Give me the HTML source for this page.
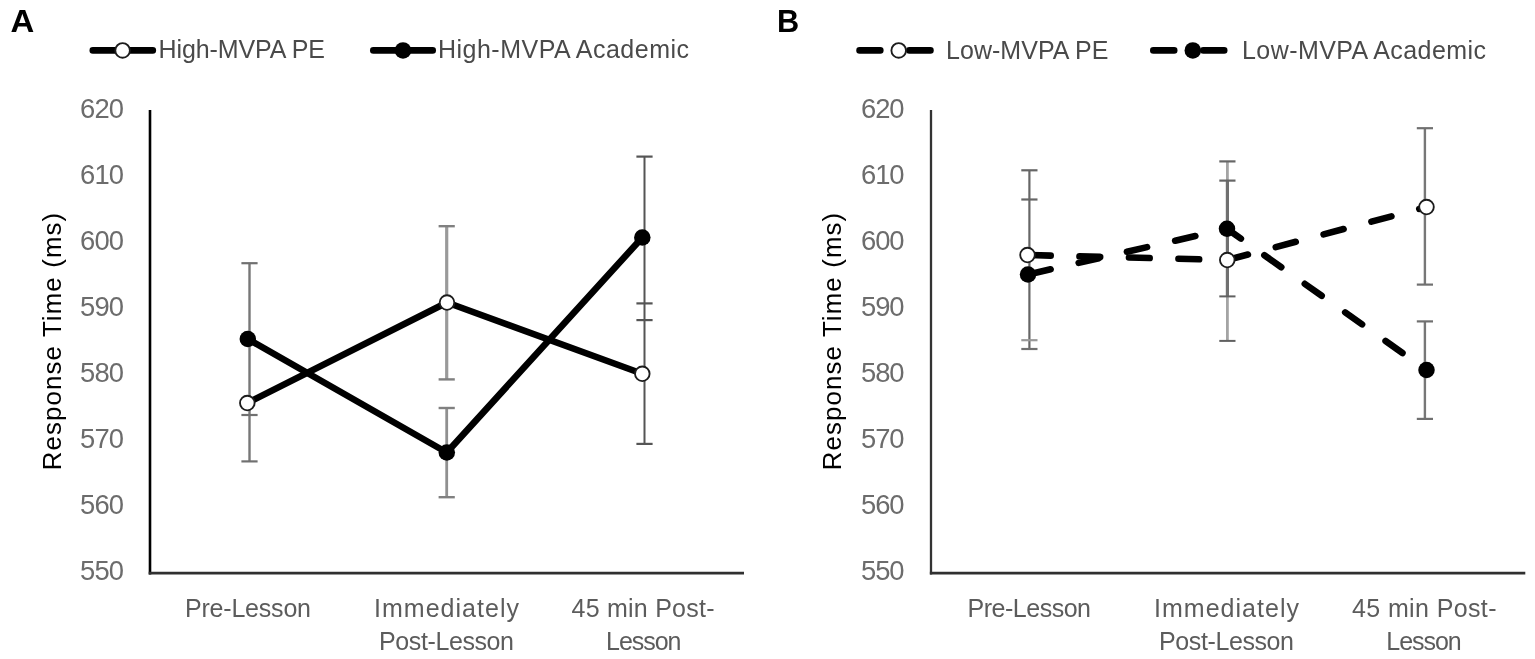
<!DOCTYPE html>
<html lang="en">
<head>
<meta charset="utf-8">
<title>Response Time by Lesson Type</title>
<style>
html,body{margin:0;padding:0;background:#fff;}
body{width:1535px;height:659px;overflow:hidden;}
svg{display:block;font-family:"Liberation Sans",Arial,Helvetica,sans-serif;}
</style>
</head>
<body>
<svg width="1535" height="659" viewBox="0 0 1535 659">
<rect x="0" y="0" width="1535" height="659" fill="#fff"/>
<g id="panel-A">
<text transform="translate(10.4,32.0) scale(1.045,1)" font-size="31.5" font-weight="bold" fill="#000">A</text>
<line x1="92.8" y1="50.4" x2="152.8" y2="50.4" stroke="#000" stroke-width="6.6" stroke-linecap="round"/>
<circle cx="122.6" cy="50.4" r="7.3" fill="#fff" stroke="#1c1c1c" stroke-width="1.85"/>
<text x="158.5" y="58.3" font-size="25.0" fill="#4a4a4a" text-anchor="start" font-weight="normal" textLength="166.5" lengthAdjust="spacing">High-MVPA PE</text>
<line x1="373.3" y1="50.4" x2="432.7" y2="50.4" stroke="#000" stroke-width="6.6" stroke-linecap="round"/>
<circle cx="403" cy="50.4" r="8.25" fill="#000"/>
<text x="438" y="58.3" font-size="25.0" fill="#4a4a4a" text-anchor="start" font-weight="normal" textLength="251" lengthAdjust="spacing">High-MVPA Academic</text>
<text x="80" y="117.6" font-size="27.4" fill="#6c6c6c" text-anchor="start" font-weight="normal" textLength="44" lengthAdjust="spacing">620</text>
<text x="80" y="183.6" font-size="27.4" fill="#6c6c6c" text-anchor="start" font-weight="normal" textLength="44" lengthAdjust="spacing">610</text>
<text x="80" y="249.6" font-size="27.4" fill="#6c6c6c" text-anchor="start" font-weight="normal" textLength="44" lengthAdjust="spacing">600</text>
<text x="80" y="315.6" font-size="27.4" fill="#6c6c6c" text-anchor="start" font-weight="normal" textLength="44" lengthAdjust="spacing">590</text>
<text x="80" y="381.6" font-size="27.4" fill="#6c6c6c" text-anchor="start" font-weight="normal" textLength="44" lengthAdjust="spacing">580</text>
<text x="80" y="447.6" font-size="27.4" fill="#6c6c6c" text-anchor="start" font-weight="normal" textLength="44" lengthAdjust="spacing">570</text>
<text x="80" y="513.6" font-size="27.4" fill="#6c6c6c" text-anchor="start" font-weight="normal" textLength="44" lengthAdjust="spacing">560</text>
<text x="80" y="579.6" font-size="27.4" fill="#6c6c6c" text-anchor="start" font-weight="normal" textLength="44" lengthAdjust="spacing">550</text>
<text transform="translate(60.7,470.3) rotate(-90)" font-size="25.8" fill="#000" textLength="257.5" lengthAdjust="spacing">Response Time (ms)</text>
<line x1="150" y1="110.0" x2="150" y2="574.5" stroke="#000" stroke-width="2.6"/>
<line x1="148.7" y1="573.2" x2="744.0" y2="573.2" stroke="#303030" stroke-width="2.7"/>
<text x="185" y="617.3" font-size="25.0" fill="#5c5c5c" text-anchor="start" font-weight="normal" textLength="126" lengthAdjust="spacing">Pre-Lesson</text>
<text x="374" y="617.3" font-size="25.0" fill="#5c5c5c" text-anchor="start" font-weight="normal" textLength="145" lengthAdjust="spacing">Immediately</text>
<text x="379" y="650.3" font-size="25.0" fill="#5c5c5c" text-anchor="start" font-weight="normal" textLength="135" lengthAdjust="spacing">Post-Lesson</text>
<text x="571.5" y="617.3" font-size="25.0" fill="#5c5c5c" text-anchor="start" font-weight="normal" textLength="143" lengthAdjust="spacing">45 min Post-</text>
<text x="606" y="650.3" font-size="25.0" fill="#5c5c5c" text-anchor="start" font-weight="normal" textLength="75.5" lengthAdjust="spacing">Lesson</text>
<line x1="249.5" y1="263" x2="249.5" y2="461.25" stroke="#777" stroke-width="2.4"/>
<line x1="241.4" y1="263.2" x2="257.6" y2="263.2" stroke="#707070" stroke-width="2.2"/>
<line x1="241.4" y1="415" x2="257.6" y2="415" stroke="#707070" stroke-width="2.2"/>
<line x1="241.4" y1="461.4" x2="257.6" y2="461.4" stroke="#707070" stroke-width="2.2"/>
<line x1="446.7" y1="226" x2="446.7" y2="379.25" stroke="#9a9a9a" stroke-width="3.2"/>
<line x1="446.7" y1="408" x2="446.7" y2="497" stroke="#909090" stroke-width="2.8"/>
<line x1="438.6" y1="226.2" x2="454.8" y2="226.2" stroke="#808080" stroke-width="2.4"/>
<line x1="438.6" y1="379.4" x2="454.8" y2="379.4" stroke="#808080" stroke-width="2.4"/>
<line x1="438.6" y1="408" x2="454.8" y2="408" stroke="#808080" stroke-width="2.4"/>
<line x1="438.6" y1="497.2" x2="454.8" y2="497.2" stroke="#808080" stroke-width="2.4"/>
<line x1="644.5" y1="156.5" x2="644.5" y2="443.75" stroke="#555" stroke-width="2.0"/>
<line x1="636.4" y1="156.6" x2="652.6" y2="156.6" stroke="#555" stroke-width="2.2"/>
<line x1="636.4" y1="303.4" x2="652.6" y2="303.4" stroke="#555" stroke-width="2.2"/>
<line x1="636.4" y1="320.1" x2="652.6" y2="320.1" stroke="#555" stroke-width="2.2"/>
<line x1="636.4" y1="443.9" x2="652.6" y2="443.9" stroke="#555" stroke-width="2.2"/>
<path d="M247.3,403 L447,302.5 L642.3,373.75" fill="none" stroke="#000" stroke-width="6.6" stroke-linecap="round" stroke-linejoin="round"/>
<path d="M247.8,339 L446.8,452.5 L642.3,237.5" fill="none" stroke="#000" stroke-width="6.6" stroke-linecap="round" stroke-linejoin="round"/>
<circle cx="247.3" cy="403" r="7.3" fill="#fff" stroke="#1c1c1c" stroke-width="1.85"/>
<circle cx="447" cy="302.5" r="7.3" fill="#fff" stroke="#1c1c1c" stroke-width="1.85"/>
<circle cx="642.3" cy="373.75" r="7.3" fill="#fff" stroke="#1c1c1c" stroke-width="1.85"/>
<circle cx="247.8" cy="339" r="8.25" fill="#000"/>
<circle cx="446.8" cy="452.5" r="8.25" fill="#000"/>
<circle cx="642.3" cy="237.5" r="8.25" fill="#000"/>
</g>
<g id="panel-B">
<text transform="translate(777.0,32.0) scale(0.975,1)" font-size="31.5" font-weight="bold" fill="#000">B</text>
<line x1="859.55" y1="50.4" x2="880.3" y2="50.4" stroke="#000" stroke-width="6.6" stroke-linecap="round"/>
<line x1="909.3" y1="50.4" x2="930.45" y2="50.4" stroke="#000" stroke-width="6.6" stroke-linecap="round"/>
<circle cx="898.7" cy="50.4" r="7.3" fill="#fff" stroke="#1c1c1c" stroke-width="1.85"/>
<text x="946" y="58.8" font-size="25.0" fill="#4a4a4a" text-anchor="start" font-weight="normal" textLength="162.5" lengthAdjust="spacing">Low-MVPA PE</text>
<line x1="1153.3" y1="50.4" x2="1174.2" y2="50.4" stroke="#000" stroke-width="6.6" stroke-linecap="round"/>
<line x1="1203.3" y1="50.4" x2="1224.2" y2="50.4" stroke="#000" stroke-width="6.6" stroke-linecap="round"/>
<circle cx="1192.8" cy="50.4" r="8.25" fill="#000"/>
<text x="1242" y="58.8" font-size="25.0" fill="#4a4a4a" text-anchor="start" font-weight="normal" textLength="244" lengthAdjust="spacing">Low-MVPA Academic</text>
<text x="861" y="117.6" font-size="27.4" fill="#6c6c6c" text-anchor="start" font-weight="normal" textLength="43.5" lengthAdjust="spacing">620</text>
<text x="861" y="183.6" font-size="27.4" fill="#6c6c6c" text-anchor="start" font-weight="normal" textLength="43.5" lengthAdjust="spacing">610</text>
<text x="861" y="249.6" font-size="27.4" fill="#6c6c6c" text-anchor="start" font-weight="normal" textLength="43.5" lengthAdjust="spacing">600</text>
<text x="861" y="315.6" font-size="27.4" fill="#6c6c6c" text-anchor="start" font-weight="normal" textLength="43.5" lengthAdjust="spacing">590</text>
<text x="861" y="381.6" font-size="27.4" fill="#6c6c6c" text-anchor="start" font-weight="normal" textLength="43.5" lengthAdjust="spacing">580</text>
<text x="861" y="447.6" font-size="27.4" fill="#6c6c6c" text-anchor="start" font-weight="normal" textLength="43.5" lengthAdjust="spacing">570</text>
<text x="861" y="513.6" font-size="27.4" fill="#6c6c6c" text-anchor="start" font-weight="normal" textLength="43.5" lengthAdjust="spacing">560</text>
<text x="861" y="579.6" font-size="27.4" fill="#6c6c6c" text-anchor="start" font-weight="normal" textLength="43.5" lengthAdjust="spacing">550</text>
<text transform="translate(841.2,470.3) rotate(-90)" font-size="25.8" fill="#000" textLength="257.5" lengthAdjust="spacing">Response Time (ms)</text>
<line x1="931" y1="110.0" x2="931" y2="574.5" stroke="#333" stroke-width="2.3"/>
<line x1="929.85" y1="573.2" x2="1525.3" y2="573.2" stroke="#303030" stroke-width="2.7"/>
<text x="967.5" y="617.3" font-size="25.0" fill="#5c5c5c" text-anchor="start" font-weight="normal" textLength="123.5" lengthAdjust="spacing">Pre-Lesson</text>
<text x="1154" y="617.3" font-size="25.0" fill="#5c5c5c" text-anchor="start" font-weight="normal" textLength="145" lengthAdjust="spacing">Immediately</text>
<text x="1159" y="650.3" font-size="25.0" fill="#5c5c5c" text-anchor="start" font-weight="normal" textLength="135" lengthAdjust="spacing">Post-Lesson</text>
<text x="1352" y="617.3" font-size="25.0" fill="#5c5c5c" text-anchor="start" font-weight="normal" textLength="144.5" lengthAdjust="spacing">45 min Post-</text>
<text x="1386.25" y="650.3" font-size="25.0" fill="#5c5c5c" text-anchor="start" font-weight="normal" textLength="75.5" lengthAdjust="spacing">Lesson</text>
<line x1="1029.4" y1="170" x2="1029.4" y2="348.75" stroke="#666" stroke-width="2.2"/>
<line x1="1021.3" y1="170.3" x2="1037.5" y2="170.3" stroke="#666" stroke-width="2.2"/>
<line x1="1021.3" y1="199.5" x2="1037.5" y2="199.5" stroke="#666" stroke-width="2.2"/>
<line x1="1021.3" y1="340.2" x2="1037.5" y2="340.2" stroke="#999" stroke-width="2.2"/>
<line x1="1021.3" y1="349" x2="1037.5" y2="349" stroke="#707070" stroke-width="2.2"/>
<line x1="1227.4" y1="161.25" x2="1227.4" y2="180.5" stroke="#a4a4a4" stroke-width="2.8"/>
<line x1="1227.4" y1="180.5" x2="1227.4" y2="296.25" stroke="#707070" stroke-width="3.2"/>
<line x1="1227.4" y1="296.25" x2="1227.4" y2="340.75" stroke="#a4a4a4" stroke-width="2.8"/>
<line x1="1219.3" y1="161.4" x2="1235.5" y2="161.4" stroke="#666" stroke-width="2.2"/>
<line x1="1219.3" y1="180.6" x2="1235.5" y2="180.6" stroke="#666" stroke-width="2.2"/>
<line x1="1219.3" y1="296.4" x2="1235.5" y2="296.4" stroke="#606060" stroke-width="2.0"/>
<line x1="1219.3" y1="340.9" x2="1235.5" y2="340.9" stroke="#606060" stroke-width="2.0"/>
<line x1="1424.9" y1="128" x2="1424.9" y2="284.5" stroke="#777" stroke-width="2.4"/>
<line x1="1424.9" y1="321.25" x2="1424.9" y2="418.75" stroke="#777" stroke-width="2.4"/>
<line x1="1416.8" y1="128.2" x2="1433.0" y2="128.2" stroke="#707070" stroke-width="2.2"/>
<line x1="1416.8" y1="284.6" x2="1433.0" y2="284.6" stroke="#707070" stroke-width="2.2"/>
<line x1="1416.8" y1="321.4" x2="1433.0" y2="321.4" stroke="#707070" stroke-width="2.2"/>
<line x1="1416.8" y1="418.9" x2="1433.0" y2="418.9" stroke="#707070" stroke-width="2.2"/>
<path d="M1027.5,255 L1227.25,260 L1426.5,207" fill="none" stroke="#000" stroke-width="6.6" stroke-linecap="round" stroke-linejoin="round" stroke-dasharray="20.7 28.8" stroke-dashoffset="-2.5"/>
<path d="M1028,274.5 L1227,228.75 L1426.5,370" fill="none" stroke="#000" stroke-width="6.6" stroke-linecap="round" stroke-linejoin="round" stroke-dasharray="20.7 28.8" stroke-dashoffset="-2.5"/>
<circle cx="1027.5" cy="255" r="7.3" fill="#fff" stroke="#1c1c1c" stroke-width="1.85"/>
<circle cx="1227.25" cy="260" r="7.3" fill="#fff" stroke="#1c1c1c" stroke-width="1.85"/>
<circle cx="1426.5" cy="207" r="7.3" fill="#fff" stroke="#1c1c1c" stroke-width="1.85"/>
<circle cx="1028" cy="274.5" r="8.25" fill="#000"/>
<circle cx="1227" cy="228.75" r="8.25" fill="#000"/>
<circle cx="1426.5" cy="370" r="8.25" fill="#000"/>
</g>
</svg>
</body>
</html>
